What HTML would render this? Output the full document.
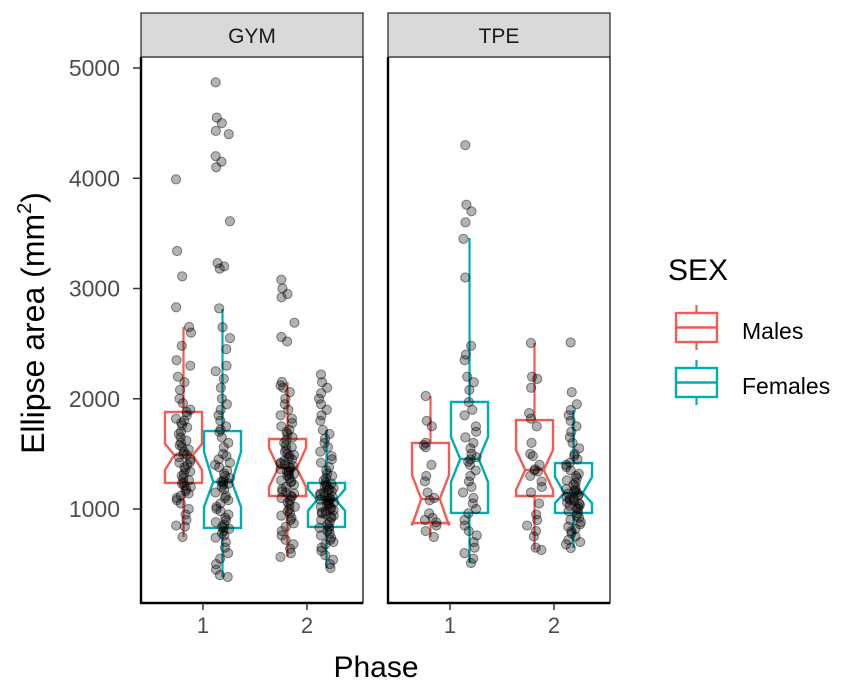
<!DOCTYPE html>
<html><head><meta charset="utf-8"><style>
html,body{margin:0;padding:0;background:#fff}
svg{display:block;font-family:"Liberation Sans",Arial,sans-serif}
</style></head><body>
<svg id="chart" width="851" height="684" viewBox="0 0 851 684" xmlns="http://www.w3.org/2000/svg">
<g id="layer"></g>
</svg>
<script>
// ---- data ----
const panels = ["GYM","TPE"];
const phases = ["1","2"];
const sexes = ["Males","Females"];
const yTicks = [1000,2000,3000,4000,5000];
const groupPanel = [0,0,0,0,1,1,1,1];
const groupPhase = [0,0,1,1,0,0,1,1];
const groupSex   = [0,1,0,1,0,1,0,1];
const boxLower   = [1236, 828,1118, 837, 873, 964,1118, 964];
const boxUpper   = [1880,1707,1635,1236,1599,1971,1807,1417];
const boxMedian  = [1490,1245,1372,1082,1091,1454,1354,1145];
const notchLow   = [1354,1018,1200, 985, 850,1245,1172,1054];
const notchHigh  = [1590,1517,1554,1180,1308,1653,1535,1290];
const whiskLow   = [ 746, 383, 565, 465, 746, 510, 628, 646];
const whiskHigh  = [2651,2814,2152,1717,2025,3458,2506,1898];
const pts0 = [3990,3340,3110,2830,2651,2600,2480,2350,2300,2200,2150,2080,2000,1960,1900,1880,1850,1820,1800,1780,1760,1740,1700,1680,1650,1620,1600,1580,1560,1540,1520,1500,1490,1470,1450,1430,1420,1400,1380,1360,1340,1320,1300,1280,1260,1240,1230,1210,1200,1180,1160,1140,1120,1100,1080,1050,1000,950,900,850,840,746];
const pts1 = [4870,4550,4500,4430,4400,4200,4150,4100,3610,3230,3200,3180,2820,2650,2550,2450,2300,2250,2180,2100,2000,1950,1900,1850,1800,1750,1720,1700,1650,1600,1560,1500,1480,1450,1420,1400,1380,1350,1320,1300,1280,1260,1250,1240,1230,1220,1200,1180,1150,1120,1100,1080,1050,1020,1000,980,950,920,900,880,860,840,830,820,800,780,760,740,700,650,600,550,500,450,400,383];
const pts2 = [3080,3000,2950,2920,2690,2560,2520,2152,2120,2100,2060,2000,1950,1900,1850,1820,1780,1750,1720,1700,1680,1650,1630,1600,1580,1560,1540,1520,1500,1490,1480,1460,1450,1440,1420,1410,1400,1390,1380,1370,1360,1350,1340,1330,1320,1310,1300,1280,1260,1250,1240,1220,1200,1180,1160,1150,1140,1120,1110,1100,1080,1060,1040,1020,1000,980,960,940,920,900,870,840,800,760,720,680,640,600,565];
const pts3 = [2220,2150,2100,2050,2000,1950,1900,1850,1800,1717,1680,1640,1600,1560,1520,1480,1450,1420,1380,1350,1320,1300,1280,1260,1240,1230,1220,1210,1200,1190,1180,1170,1160,1150,1140,1130,1120,1110,1100,1090,1085,1080,1075,1070,1060,1050,1040,1030,1020,1010,1000,990,980,970,960,950,940,930,920,900,880,860,840,830,820,800,780,760,740,720,700,680,650,620,580,540,500,465];
const pts4 = [2025,1800,1750,1600,1580,1560,1400,1300,1250,1150,1100,1080,960,920,900,880,850,800,746];
const pts5 = [4300,3760,3700,3600,3450,3100,2480,2400,2350,2200,2150,2080,1970,1900,1850,1750,1700,1650,1600,1550,1500,1470,1450,1430,1400,1350,1300,1250,1200,1150,1100,1050,1000,960,900,850,800,760,700,650,600,550,510];
const pts6 = [2506,2200,2180,2100,1870,1820,1750,1600,1500,1480,1400,1360,1350,1340,1300,1250,1200,1150,1050,950,900,850,800,750,650,628];
const pts7 = [2510,2060,1950,1898,1850,1800,1750,1700,1650,1600,1550,1500,1480,1450,1420,1400,1380,1350,1320,1300,1280,1260,1240,1220,1200,1180,1170,1160,1150,1140,1130,1120,1110,1100,1090,1080,1070,1060,1050,1040,1030,1020,1010,1000,980,960,940,920,900,880,860,840,820,800,780,750,720,700,680,646];
const points = [pts0,pts1,pts2,pts3,pts4,pts5,pts6,pts7];

// ---- layout ----
const panelX = [141,388], panelW = 222, panelTop = 57, panelBot = 603;
const colors = ["#F25C54","#00ADB5"];
function yv(v){ return 68 + (5000 - v) * 0.11025; }
function xcat(p, ph){ return panelX[p] + (ph === 0 ? 62 : 166); }
function xg(i){ return xcat(groupPanel[i], groupPhase[i]) + (groupSex[i] === 0 ? -19.5 : 19.5); }
const NS = "http://www.w3.org/2000/svg";
const layer = document.getElementById("layer");
function mk(tag, attrs, parent){ const e = document.createElementNS(NS, tag); for (const k in attrs) e.setAttribute(k, attrs[k]); (parent||layer).appendChild(e); return e; }

panels.forEach((name, p) => {
  const r = mk("rect", {x: panelX[p], y: panelTop, width: panelW, height: panelBot - panelTop, fill: "#fff", stroke: "#000", "stroke-width": 1.2});
  
  
  const ax = mk("path", {d: `M${panelX[p]},${panelTop} V${panelBot} H${panelX[p]+panelW}`, fill: "none", stroke: "#000", "stroke-width": 2.4});
  
  
  const s = mk("rect", {x: panelX[p], y: 13, width: panelW, height: 44, fill: "#d9d9d9", stroke: "#222", "stroke-width": 1.2});
  
  
  const t = mk("text", {x: panelX[p] + panelW / 2, y: 43, "font-size": 21, "text-anchor": "middle", fill: "#1a1a1a"});
  t.textContent = name;
  
  
  phases.forEach((ph, k) => {
    const x = xcat(p, k);
    const tk = mk("line", {x1: x, x2: x, y1: panelBot, y2: panelBot + 7, stroke: "#333", "stroke-width": 1.5});
    
    
    const tl = mk("text", {x: x, y: panelBot + 30, "font-size": 22, "text-anchor": "middle", fill: "#4d4d4d"});
    tl.textContent = ph;
    
    
  });
});
yTicks.forEach(v => {
  const y = yv(v);
  const tk = mk("line", {x1: 133, x2: 141, y1: y, y2: y, stroke: "#333", "stroke-width": 1.5});
  
  
  const tl = mk("text", {x: 120, y: y + 8, "font-size": 23, "text-anchor": "end", fill: "#4d4d4d"});
  tl.textContent = v;
  
  
});

for (let i = 0; i < 8; i++) {
  const xc = xg(i), hw = 18.5, nw = hw / 2, col = colors[groupSex[i]];
  const g = mk("g", {});
  
  
  mk("line", {x1: xc, x2: xc, y1: yv(whiskHigh[i]), y2: yv(boxUpper[i]), stroke: col, "stroke-width": 2.2}, g);
  mk("line", {x1: xc, x2: xc, y1: yv(boxLower[i]), y2: yv(whiskLow[i]), stroke: col, "stroke-width": 2.2}, g);
  const pts = [
    [xc-hw, yv(boxUpper[i])], [xc-hw, yv(notchHigh[i])], [xc-nw, yv(boxMedian[i])], [xc-hw, yv(notchLow[i])], [xc-hw, yv(boxLower[i])],
    [xc+hw, yv(boxLower[i])], [xc+hw, yv(notchLow[i])], [xc+nw, yv(boxMedian[i])], [xc+hw, yv(notchHigh[i])], [xc+hw, yv(boxUpper[i])]
  ];
  mk("polygon", {points: pts.map(p => p.join(",")).join(" "), fill: "none", stroke: col, "stroke-width": 2.4}, g);
  mk("line", {x1: xc-nw, x2: xc+nw, y1: yv(boxMedian[i]), y2: yv(boxMedian[i]), stroke: col, "stroke-width": 2.4}, g);
}
for (let i = 0; i < 8; i++) {
  const xc = xg(i);
  const g = mk("g", {});
  
  
  points[i].forEach((v, j) => {
    const h = ((j * 7919 + i * 104729 + j * j * 131) % 997) / 997;
    const jit = (h - 0.5) * 15;
    const c = mk("circle", {cx: xc + jit, cy: yv(v), r: 4.6, fill: "rgba(0,0,0,0.3)", stroke: "rgba(0,0,0,0.45)", "stroke-width": 1}, g);
    
    
  });
}
let t = mk("text", {x: 376, y: 677, "font-size": 30, "text-anchor": "middle", fill: "#000"});
t.textContent = "Phase";


t = mk("text", {transform: "translate(44,323) rotate(-90)", "font-size": 32, "text-anchor": "middle", fill: "#000"});
t.innerHTML = 'Ellipse area (mm<tspan font-size="20" dy="-13">2</tspan><tspan dy="13">)</tspan>';


const lg = mk("g", {});


t = mk("text", {x: 668, y: 280, "font-size": 30, fill: "#000"}, lg);
t.textContent = "SEX";


sexes.forEach((s, k) => {
  const top = 313 + k * 55, col = colors[k];
  const e = mk("g", {}, lg);
  
  
  mk("line", {x1: 696.5, x2: 696.5, y1: top - 8, y2: top + 37, stroke: col, "stroke-width": 2.2}, e);
  mk("rect", {x: 676, y: top, width: 41, height: 29, fill: "#fff", stroke: col, "stroke-width": 2.4}, e);
  mk("line", {x1: 676, x2: 717, y1: top + 14.5, y2: top + 14.5, stroke: col, "stroke-width": 2.4}, e);
  const tt = mk("text", {x: 742, y: top + 26, "font-size": 23, fill: "#000"}, e);
  tt.textContent = s;
  
  
});
</script>
</body></html>
